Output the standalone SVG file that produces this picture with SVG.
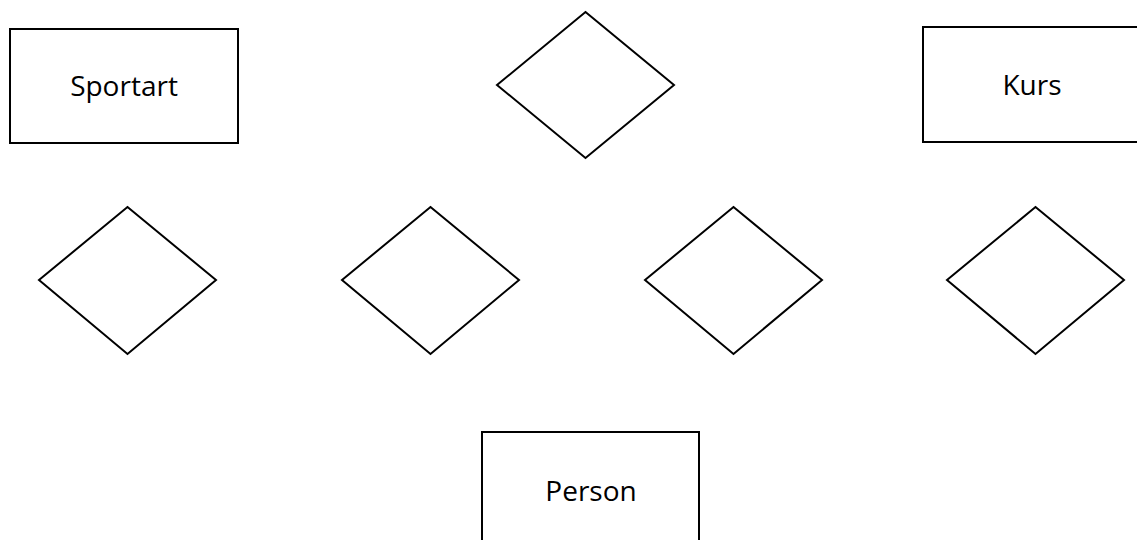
<svg xmlns="http://www.w3.org/2000/svg" width="1137" height="540" viewBox="0 0 1137 540">
<style>
.box{fill:#fff;stroke:#000;stroke-width:2}
.dia{fill:#fff;stroke:#000;stroke-width:2;stroke-linejoin:miter}
.lbl{font-family:"Open Sans","Liberation Sans",sans-serif;font-size:28px;fill:#000;text-anchor:middle}
</style>
<rect width="1137" height="540" fill="#fff"/>
<g id="sportart"><rect class="box" x="10" y="29" width="228" height="114"/><text class="lbl" x="124" y="96">Sportart</text></g>
<g id="kurs"><rect class="box" x="923" y="27" width="220" height="115"/><text class="lbl" x="1032" y="95">Kurs</text></g>
<g id="person"><rect class="box" x="482" y="432" width="217" height="120"/><text class="lbl" x="591" y="501">Person</text></g>
<g id="rel-top"><polygon class="dia" points="585.5,12 674,85 585.5,158 497,85"/></g>
<g id="rel-1"><polygon class="dia" points="127.5,207 216,280 127.5,354 39,280"/></g>
<g id="rel-2"><polygon class="dia" points="430.5,207 519,280 430.5,354 342,280"/></g>
<g id="rel-3"><polygon class="dia" points="733.5,207 822,280 733.5,354 645,280"/></g>
<g id="rel-4"><polygon class="dia" points="1035.5,207 1124,280 1035.5,354 947,280"/></g>
<g id="connectors"></g>
</svg>
